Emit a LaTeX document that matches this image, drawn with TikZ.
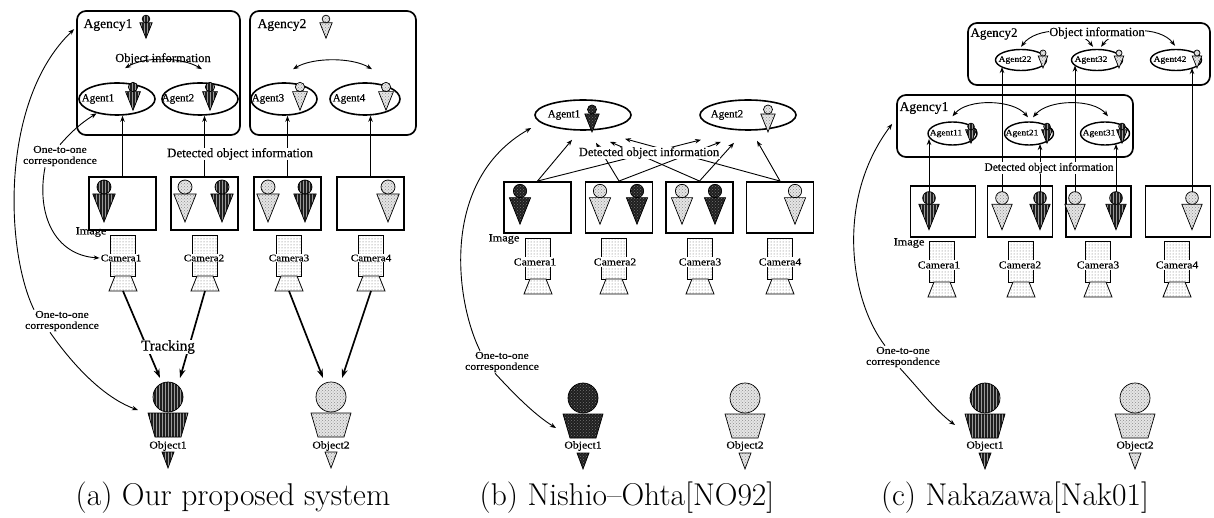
\documentclass[tikz,border=0pt]{standalone}
\usepackage{fontspec}
\newfontfamily\tms[FakeBold=0.4]{Liberation Serif}
\newfontfamily\tmw[FakeStretch=1.12,FakeBold=0.4]{Liberation Serif}
\usetikzlibrary{arrows.meta,shapes.geometric,patterns,calc}

\tikzset{
  % small person: head on an inverted triangle, origin at head centre
  pics/person/.style={code={
    \path[#1] (-8,5) -- (8,5) -- (0,25) -- cycle;
    \path[#1] (0,0) circle[radius=5];
    \coordinate (-top) at (0,-5);
  }},
  % tracked object: head, body, legs
  pics/object/.style={code={
    \path[#1] (-20,16) -- (20,16) -- (13,40) -- (-13,40) -- cycle;
    \path[#1] (0,0) circle[radius=15];
    \path[#1] (-6,55) -- (6,55) -- (0,71) -- cycle;
    \coordinate (-top) at (0,-15);
  }},
  % camera: body and lens, origin at top centre
  pics/camera/.style={code={
    \path[camfill] (-12.5,0) rectangle (12.5,41);
    \path[camfill] (-8,41) -- (8,41) -- (14,56) -- (-14,56) -- cycle;
    \coordinate (-bot) at (0,56);
  }},
}

\begin{document}
\begin{tikzpicture}[x=1pt,y=-1pt,
  >={Stealth[length=6pt,width=4.5pt]},
  agency/.style={draw, line width=1.7pt, rounded corners=9pt, inner sep=0pt},
  agent/.style={draw, ellipse, line width=1.6pt, inner sep=0pt},
  agentc/.style={draw, ellipse, line width=1.4pt, inner sep=0pt},
  imgbox/.style={draw, line width=1.9pt, inner sep=0pt},
  conn/.style={line width=0.9pt},
  track/.style={-{Stealth[length=9pt,width=6pt]}, line width=1.7pt},
  darkfill/.style={draw, line width=0.7pt, preaction={fill=black!88}, pattern=vertical lines, pattern color=black!40},
  darkdots/.style={draw, line width=0.7pt, preaction={fill=black!88}, pattern=crosshatch dots, pattern color=black!55},
  lightfill/.style={draw, line width=0.7pt, preaction={fill=gray!20}, pattern=crosshatch dots, pattern color=gray!90},
  camfill/.style={draw, line width=0.8pt, preaction={fill=white}, pattern=dots, pattern color=black!60},
  tx/.style={inner sep=1pt, font=\tms\fontsize{#1}{14}\selectfont},
  tw/.style={inner sep=1pt, align=center, font=\tmw\fontsize{#1}{11}\selectfont},
  subcap/.style={inner sep=0pt, anchor=base, font=\fontsize{31.5}{36}\selectfont},
]
\useasboundingbox (0,0) rectangle (1214,518);
\fill[white] (0,0) rectangle (1214,518);

% ================= (a) proposed system =================
\node[agency, minimum width=163pt, minimum height=124pt] (a-agc1) at (158.5,73) {};
\node[agency, minimum width=166pt, minimum height=124pt] (a-agc2) at (333,73) {};
\node[tx=13.5] (a-agc1-t) at (108,25) {Agency1};
\pic[scale=0.77] (a-agc1-i) at (146,19) {person=darkfill};
\node[tx=13.5] (a-agc2-t) at (282,25) {Agency2};
\pic[scale=0.77] (a-agc2-i) at (326,19) {person=lightfill};

\node[agent, minimum width=76pt, minimum height=32pt] (a-ag1) at (117,99) {};
\node[agent, minimum width=76pt, minimum height=32pt] (a-ag2) at (200,99) {};
\node[agent, minimum width=66pt, minimum height=32pt] (a-ag3) at (284,99) {};
\node[agent, minimum width=70pt, minimum height=32pt] (a-ag4) at (365,99) {};
\node[tx=11] (a-ag1-t) at (98,99) {Agent1};
\node[tx=11] (a-ag2-t) at (178,99) {Agent2};
\node[tx=11] (a-ag3-t) at (268,99) {Agent3};
\node[tx=11] (a-ag4-t) at (349,99) {Agent4};
\pic[scale=0.93] (a-ag1-i) at (133,87) {person=darkfill};
\pic[scale=0.93] (a-ag2-i) at (210,87) {person=darkfill};
\pic[scale=0.93] (a-ag3-i) at (300,87) {person=lightfill};
\pic[scale=0.93] (a-ag4-i) at (386,87) {person=lightfill};

\node[tx=12.5] (a-oi) at (163,59) {Object information};
\draw[conn,<->] ($(a-ag1.north)+(8,-14)$) .. controls +(20,-12) and +(-20,-12) .. ($(a-ag2.north)+(2,-13)$);
\draw[conn,<->] ($(a-ag3.north)+(9,-13)$) .. controls +(20,-12) and +(-20,-12) .. ($(a-ag4.north)+(7,-13)$);

\node[imgbox, minimum width=67pt, minimum height=53pt] (a-img1) at (122.5,203.5) {};
\node[imgbox, minimum width=67pt, minimum height=53pt] (a-img2) at (204.5,203.5) {};
\node[imgbox, minimum width=67pt, minimum height=53pt] (a-img3) at (287.5,203.5) {};
\node[imgbox, minimum width=67pt, minimum height=53pt] (a-img4) at (370.5,203.5) {};
\pic[scale=1.4] (a-f11) at (104,187) {person=darkfill};
\pic[scale=1.4] (a-f21) at (185,187) {person=lightfill};
\pic[scale=1.4] (a-f22) at (222,187) {person=darkfill};
\pic[scale=1.4] (a-f31) at (268,187) {person=lightfill};
\pic[scale=1.4] (a-f32) at (305,187) {person=darkfill};
\pic[scale=1.4] (a-f41) at (388,187) {person=lightfill};

\draw[conn,->] (a-img1.north) -- (a-img1.north |- a-ag1.south);
\draw[conn,->] (a-img2.north) -- (a-img2.north |- a-ag2.south);
\draw[conn,->] (a-img3.north) -- (a-img3.north |- a-ag3.south);
\draw[conn,->] (a-img4.north) -- (a-img4.north |- a-ag4.south);
\node[tx=13, fill=white, inner sep=0.5pt] (a-doi) at (240,154) {Detected object information};

\pic (a-c1) at (123,235) {camera};
\pic (a-c2) at (205,235) {camera};
\pic (a-c3) at (289,235) {camera};
\pic (a-c4) at (371,235) {camera};
\node[tw=10, fill=white] (a-c1-lbl) at (121,258) {Camera1};
\node[tw=10, fill=white] (a-c2-lbl) at (204,258) {Camera2};
\node[tw=10, fill=white] (a-c3-lbl) at (289,258) {Camera3};
\node[tw=10, fill=white] (a-c4-lbl) at (371,258) {Camera4};
\node[tw=11] (a-imgl) at (91,232) {Image};

\pic (a-o1) at (168,397) {object=darkfill};
\pic (a-o2) at (331,397) {object=lightfill};
\node[tw=10.5] (a-o1-lbl) at (168,446) {Object1};
\node[tw=10.5] (a-o2-lbl) at (331,446) {Object2};

\draw[track] (a-c1-bot) -- ($(a-o1-top)+(-8,-4)$);
\draw[track] (a-c2-bot) -- ($(a-o1-top)+(12,-4)$);
\draw[track] (a-c3-bot) -- ($(a-o2-top)+(-8,-4)$);
\draw[track] (a-c4-bot) -- ($(a-o2-top)+(11,-4)$);
\node[tx=15, fill=white, inner sep=0.5pt] (a-trk) at (168,347) {Tracking};

\node[tw=10.5] (a-o2o1) at (60,156) {One-to-one\\correspondence};
\draw[conn,->] (a-o2o1.north) to[bend left=8] (a-ag1.215);
\draw[conn,->] ($(a-o2o1.south)+(-15,0)$) .. controls (36,215) and (55,255) .. (a-c1-lbl.west);
\node[tw=10.5] (a-o2o2) at (62,321) {One-to-one\\correspondence};
\draw[conn,->] ($(a-o2o2.north)+(-28,0)$) .. controls (5,250) and (0,100) .. ($(a-agc1.north west)+(-2,19)$);
\draw[conn,->] ($(a-o2o2.south)+(-12,0)$) .. controls (80,375) and (110,400) .. ($(a-o1-top)+(-30,28)$);

\node[subcap] (a-cap) at (233,505) {(a) Our proposed system};

% ================= (b) Nishio-Ohta =================
\node[agent, minimum width=96pt, minimum height=30pt] (b-ag1) at (583,115) {};
\node[agent, minimum width=96pt, minimum height=30pt] (b-ag2) at (748,115) {};
\node[tx=11] (b-ag1-t) at (564,115) {Agent1};
\node[tx=11] (b-ag2-t) at (727,115) {Agent2};
\pic[scale=0.9] (b-ag1-i) at (592,109.5) {person=darkdots};
\pic[scale=0.9] (b-ag2-i) at (768,109.5) {person=lightfill};

\node[imgbox, minimum width=67pt, minimum height=51pt] (b-img1) at (537.5,207.5) {};
\node[imgbox, minimum width=67pt, minimum height=51pt] (b-img2) at (619,207.5) {};
\node[imgbox, minimum width=67pt, minimum height=51pt] (b-img3) at (699.5,207.5) {};
\node[imgbox, minimum width=67pt, minimum height=51pt] (b-img4) at (780,207.5) {};
\pic[scale=1.33] (b-f11) at (520,191) {person=darkdots};
\pic[scale=1.33] (b-f21) at (600,191) {person=lightfill};
\pic[scale=1.33] (b-f22) at (637,191) {person=darkdots};
\pic[scale=1.33] (b-f31) at (682,191) {person=lightfill};
\pic[scale=1.33] (b-f32) at (715,191) {person=darkdots};
\pic[scale=1.33] (b-f41) at (795,191) {person=lightfill};

\coordinate (b-e11) at ($(b-ag1.south)+(-11,9)$);
\coordinate (b-e21) at ($(b-ag1.south)+(13,12)$);
\coordinate (b-e31) at ($(b-ag1.south)+(27,11)$);
\coordinate (b-e41) at ($(b-ag1.south)+(42,8)$);
\coordinate (b-e12) at ($(b-ag2.south)+(-47,9)$);
\coordinate (b-e22) at ($(b-ag2.south)+(-27,11)$);
\coordinate (b-e32) at ($(b-ag2.south)+(-14,12)$);
\coordinate (b-e42) at ($(b-ag2.south)+(9,10)$);
\foreach \i in {1,...,4} {
  \draw[conn,->] (b-img\i.north) -- (b-e\i1);
  \draw[conn,->] (b-img\i.north) -- (b-e\i2);
}
\node[tx=12.5, fill=white, inner sep=0.5pt] (b-doi) at (649,153) {Detected object information};

\pic (b-c1) at (538,238) {camera};
\pic (b-c2) at (614,238) {camera};
\pic (b-c3) at (700,238) {camera};
\pic (b-c4) at (780,238) {camera};
\node[tw=10.5, fill=white] (b-c1-lbl) at (535,262) {Camera1};
\node[tw=10.5, fill=white] (b-c2-lbl) at (615,262) {Camera2};
\node[tw=10.5, fill=white] (b-c3-lbl) at (700,262) {Camera3};
\node[tw=10.5, fill=white] (b-c4-lbl) at (780,262) {Camera4};
\node[tw=11] (b-imgl) at (504,239) {Image};

\pic (b-o1) at (583,398) {object=darkdots};
\pic (b-o2) at (745,398) {object=lightfill};
\node[tw=10.5] (b-o1-lbl) at (583,446) {Object1};
\node[tw=10.5] (b-o2-lbl) at (745,446) {Object2};

\node[tw=10.5] (b-o2o) at (502,362) {One-to-one\\correspondence};
\draw[conn,->] ($(b-o2o.north)+(-22,0)$) .. controls (455,300) and (440,180) .. ($(b-ag1.west)+(-3,13)$);
\draw[conn,->] ($(b-o2o.south)+(-7,0)$) .. controls (515,395) and (535,415) .. ($(b-o1-top)+(-27,45)$);

\node[subcap] (b-cap) at (627,505) {(b) Nishio--Ohta[NO92]};

% ================= (c) Nakazawa =================
\node[agency, minimum width=242pt, minimum height=62pt] (c-agc2) at (1089,54) {};
\node[agency, minimum width=236pt, minimum height=62pt] (c-agc1) at (1015,126) {};
\node[tx=13] (c-agc2-t) at (994,34) {Agency2};
\node[tx=13.5] (c-agc1-t) at (924,108) {Agency1};

\node[agentc, minimum width=51pt, minimum height=21pt] (c-ag22) at (1021,60) {};
\node[agentc, minimum width=51pt, minimum height=21pt] (c-ag32) at (1097,60) {};
\node[agentc, minimum width=51pt, minimum height=21pt] (c-ag42) at (1176,60) {};
\node[agentc, minimum width=49pt, minimum height=23pt] (c-ag11) at (952.5,133.5) {};
\node[agentc, minimum width=49pt, minimum height=23pt] (c-ag21) at (1029,133.5) {};
\node[agentc, minimum width=49pt, minimum height=23pt] (c-ag31) at (1105,133.5) {};
\node[tw=8.5] (c-ag22-t) at (1015,60) {Agent22};
\node[tw=8.5] (c-ag32-t) at (1091,60) {Agent32};
\node[tw=8.5] (c-ag42-t) at (1170,60) {Agent42};
\node[tw=8.5] (c-ag11-t) at (946,133.5) {Agent11};
\node[tw=8.5] (c-ag21-t) at (1022,133.5) {Agent21};
\node[tw=8.5] (c-ag31-t) at (1099,133.5) {Agent31};
\pic[scale=0.6] (c-ag22-i) at (1043,53) {person=lightfill};
\pic[scale=0.6] (c-ag32-i) at (1119,53) {person=lightfill};
\pic[scale=0.6] (c-ag42-i) at (1197,53) {person=lightfill};
\pic[scale=0.67] (c-ag11-i) at (971,126.5) {person=darkfill};
\pic[scale=0.67] (c-ag21-i) at (1047,126.5) {person=darkfill};
\pic[scale=0.67] (c-ag31-i) at (1122,126.5) {person=darkfill};

\draw[conn,<->] ($(c-ag22.north)+(0,-2)$) .. controls +(15,-20) and +(-15,-20) .. ($(c-ag32.north)+(-4,-2)$);
\draw[conn,<->] ($(c-ag32.north)+(4,-2)$) .. controls +(15,-20) and +(-15,-20) .. ($(c-ag42.north)+(-1,-3)$);
\node[tx=12.5, fill=white, inner sep=0.5pt] (c-oi) at (1097,33) {Object information};
\draw[conn,<->] ($(c-ag11.north)+(0,-5)$) .. controls +(15,-18) and +(-15,-18) .. ($(c-ag21.north)+(-1,-4)$);
\draw[conn,<->] ($(c-ag21.north)+(4,-4)$) .. controls +(15,-18) and +(-15,-18) .. ($(c-ag31.north)+(3,-5)$);

\node[imgbox, minimum width=65pt, minimum height=51pt] (c-img1) at (943,211.5) {};
\node[imgbox, minimum width=65pt, minimum height=51pt] (c-img2) at (1020,211.5) {};
\node[imgbox, minimum width=65pt, minimum height=51pt] (c-img3) at (1098.5,211.5) {};
\node[imgbox, minimum width=65pt, minimum height=51pt] (c-img4) at (1178,211.5) {};
\pic[scale=1.27] (c-f11) at (929,198) {person=darkfill};
\pic[scale=1.27] (c-f21) at (1002,198) {person=lightfill};
\pic[scale=1.27] (c-f22) at (1040,198) {person=darkfill};
\pic[scale=1.27] (c-f31) at (1075,198) {person=lightfill};
\pic[scale=1.27] (c-f32) at (1116,198) {person=darkfill};
\pic[scale=1.27] (c-f41) at (1192,198) {person=lightfill};

\coordinate (c-e11) at ($(c-ag11)+(-23.5,5.5)$);
\coordinate (c-e21) at ($(c-ag22)+(-19,7)$);
\coordinate (c-e22) at ($(c-ag21)+(11,10.5)$);
\coordinate (c-e31) at ($(c-ag32)+(-22,5.5)$);
\coordinate (c-e32) at ($(c-ag31)+(11,10.5)$);
\coordinate (c-e41) at ($(c-ag42)+(16,8)$);
\foreach \f in {11,21,22,31,32,41} {
  \draw[conn,->] (c-f\f-top) -- (c-f\f-top |- c-e\f);
}
\node[tx=11.5, fill=white, inner sep=0.5pt] (c-doi) at (1049,168) {Detected object information};

\pic (c-c1) at (942,241) {camera};
\pic (c-c2) at (1021,241) {camera};
\pic (c-c3) at (1098,241) {camera};
\pic (c-c4) at (1177,241) {camera};
\node[tw=10.5, fill=white] (c-c1-lbl) at (939,265) {Camera1};
\node[tw=10.5, fill=white] (c-c2-lbl) at (1020,265) {Camera2};
\node[tw=10.5, fill=white] (c-c3-lbl) at (1098,265) {Camera3};
\node[tw=10.5, fill=white] (c-c4-lbl) at (1177,265) {Camera4};
\node[tw=11] (c-imgl) at (909,243) {Image};

\pic (c-o1) at (985,398) {object=darkfill};
\pic (c-o2) at (1135,398) {object=lightfill};
\node[tw=10.5] (c-o1-lbl) at (985,446) {Object1};
\node[tw=10.5] (c-o2-lbl) at (1135,446) {Object2};

\node[tw=10.5] (c-o2o) at (903,357) {One-to-one\\correspondence};
\draw[conn,->] ($(c-o2o.north)+(-18,0)$) .. controls (850,300) and (835,200) .. ($(c-agc1.south west)+(-4,-34)$);
\draw[conn,->] ($(c-o2o.south)+(-3,0)$) .. controls (920,390) and (935,410) .. ($(c-o1-top)+(-30,42)$);

\node[subcap] (c-cap) at (1015,505) {(c) Nakazawa[Nak01]};
\end{tikzpicture}
\end{document}
